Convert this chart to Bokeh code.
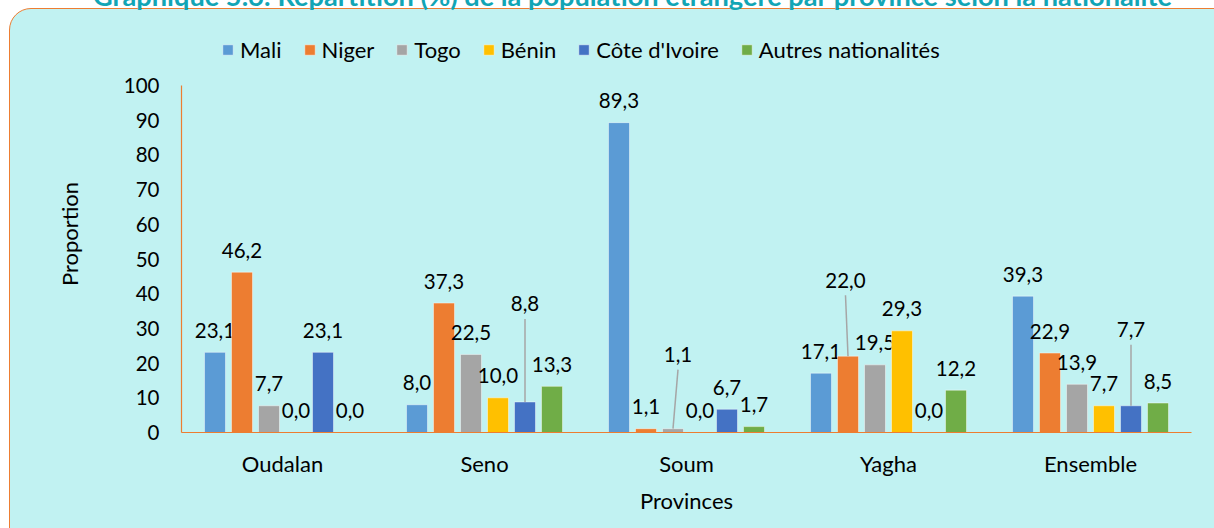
from bokeh.plotting import figure
from bokeh.layouts import column
from bokeh.models import (FactorRange, ColumnDataSource, Legend, LegendItem,
                          FixedTicker, Div)
from bokeh.transform import dodge
from bokeh.core.properties import value
from bokeh.embed import file_html
from bokeh.resources import INLINE

# ---------------- data ----------------
title_text = ("Graphique 5.6: Répartition (%) de la population étrangère "
              "par province selon la nationalité")
provinces = ["Oudalan", "Seno", "Soum", "Yagha", "Ensemble"]
nationalities = ["Mali", "Niger", "Togo", "Bénin", "Côte d'Ivoire", "Autres nationalités"]
mali = [23.1, 8.0, 89.3, 17.1, 39.3]
niger = [46.2, 37.3, 1.1, 22.0, 22.9]
togo = [7.7, 22.5, 1.1, 19.5, 13.9]
benin = [0.0, 10.0, 0.0, 29.3, 7.7]
cote_ivoire = [23.1, 8.8, 6.7, 0.0, 7.7]
autres = [0.0, 13.3, 1.7, 12.2, 8.5]
y_ticks = [0, 10, 20, 30, 40, 50, 60, 70, 80, 90, 100]

series = [mali, niger, togo, benin, cote_ivoire, autres]
colors = ["#5B9BD5", "#ED7D31", "#A5A5A5", "#FFC000", "#4472C4", "#70AD47"]

# label displacements (style): (series, province) -> (dx px, extra lift px)
label_shift = {(4, 1): (0, 76), (2, 2): (5, 52), (1, 3): (-2.5, 54), (4, 4): (0, 54)}

# ---------------- layout ----------------
W, H = 1214, 528
ML, MR, MT, MB = 181, 23, 35, 96
AXIS_PX = 347                 # pixels from 0 to 100 on the value axis
frame_w = W - ML - MR
frame_h = H - MT - MB
ppu = AXIS_PX / 100.0
y_end = frame_h / ppu
cat_px = frame_w / len(provinces)
step = 27 / cat_px
bar_w = 21 / cat_px
LABEL_GAP = 22
FONT = "Lato"
FS_NUM = "20.5px"
FS_TXT = "22px"
BG = "#C1F2F2"

p = figure(x_range=FactorRange(*provinces, range_padding=0, factor_padding=0),
           y_range=(0, y_end), width=W, height=H, output_backend="svg",
           toolbar_location=None, min_border_left=ML, min_border_right=MR,
           min_border_top=MT, min_border_bottom=MB)
p.background_fill_color = None
p.border_fill_color = None
p.outline_line_color = None
p.grid.grid_line_color = None
p.stylesheets = [
    ":host { position: relative; overflow: hidden; background: transparent; }"
    ":host::before { content: ''; position: absolute; left: 9px; top: 8px;"
    " right: -40px; bottom: -40px; width: auto; height: auto;"
    " max-width: none; max-height: none; box-sizing: border-box;"
    " border: 1.5px solid #ED7D31; border-radius: 22px; background: " + BG + "; }"
]

items = []
for k, (name, vals, col) in enumerate(zip(nationalities, series, colors)):
    off = (k - 2.5) * step
    labels = [f"{v:.1f}".replace(".", ",") for v in vals]
    dxs = [label_shift.get((k, i), (0, 0))[0] for i in range(len(provinces))]
    dys = [-(LABEL_GAP + label_shift.get((k, i), (0, 0))[1]) for i in range(len(provinces))]
    src = ColumnDataSource(dict(prov=provinces, val=vals, lab=labels, dx=dxs, dy=dys))
    r = p.vbar(x=dodge("prov", off, range=p.x_range), top="val", width=bar_w,
               source=src, fill_color=col, line_color="white", line_alpha=0.45,
               line_width=1)
    items.append(LegendItem(label=name, renderers=[r]))
    p.text(x=dodge("prov", off, range=p.x_range), y="val", text="lab", source=src,
           x_offset="dx", y_offset="dy", text_align="center",
           text_baseline="alphabetic", text_font=value(FONT),
           text_font_size=FS_NUM, text_color="#000000")
    # leader lines for displaced labels
    for i, prov in enumerate(provinces):
        if (k, i) in label_shift:
            dx, lift = label_shift[(k, i)]
            lsrc = ColumnDataSource(dict(prov=[prov], y0=[vals[i]],
                                         y1=[vals[i] + (7 + lift) / ppu]))
            p.segment(x0=dodge("prov", off, range=p.x_range), y0="y0",
                      x1=dodge("prov", off + dx / cat_px, range=p.x_range), y1="y1",
                      source=lsrc, line_color="#A6A6A6", line_width=1.5)

legend = Legend(items=items, orientation="horizontal", location=(40, 369),
                glyph_width=13, glyph_height=13, label_standoff=6, spacing=21,
                padding=0, margin=0, border_line_color=None,
                background_fill_alpha=0, label_text_font=FONT,
                label_text_font_size=FS_TXT, label_text_color="#000000")
p.add_layout(legend, "center")

# axes
p.yaxis.ticker = FixedTicker(ticks=y_ticks)
p.yaxis.bounds = (0, 100)
for ax in (p.xaxis[0], p.yaxis[0]):
    ax.major_tick_line_color = None
    ax.minor_tick_line_color = None
    ax.major_tick_out = 0
    ax.major_tick_in = 0
    ax.minor_tick_out = 0
    ax.axis_line_color = "#ED7D31"
    ax.axis_line_width = 1.2
    ax.major_label_text_font = FONT
    ax.major_label_text_color = "#000000"
    ax.axis_label_text_font = FONT
    ax.axis_label_text_font_size = FS_TXT
    ax.axis_label_text_font_style = "normal"
    ax.axis_label_text_color = "#000000"

p.yaxis.major_label_text_font_size = FS_NUM
p.xaxis.major_label_text_font_size = FS_TXT
p.yaxis.axis_label = "Proportion"
p.yaxis.major_label_standoff = 22
p.yaxis.axis_label_standoff = 38
p.xaxis.axis_label = "Provinces"
p.xaxis.major_label_standoff = 17
p.xaxis.axis_label_standoff = 7

title = Div(text=title_text,
            styles={"position": "absolute", "top": "-25px", "left": "88px",
                    "z-index": "5", "white-space": "nowrap",
                    "font-family": FONT, "font-weight": "bold",
                    "font-size": "27.2px", "line-height": "32px",
                    "color": "#12A5B5"})

page = column(title, p, spacing=0)
open("out.html", "w").write(file_html(page, INLINE))
